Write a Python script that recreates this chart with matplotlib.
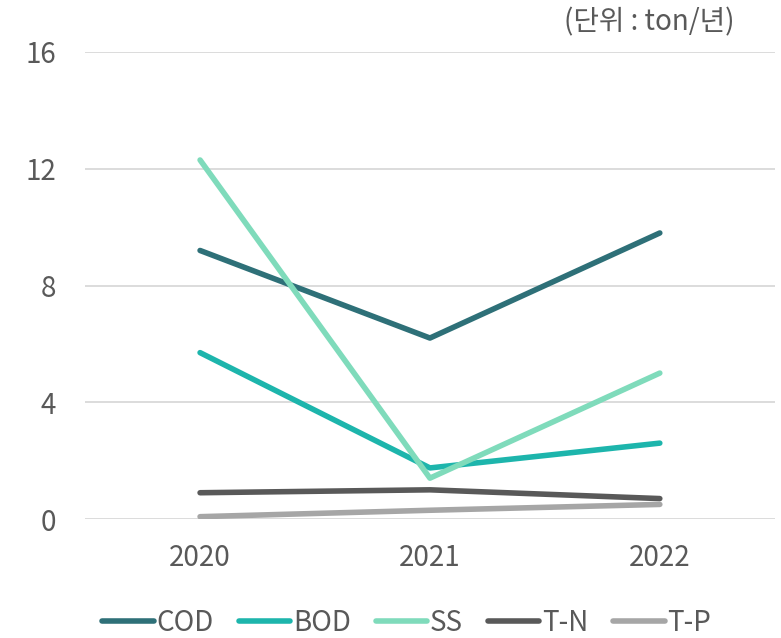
import matplotlib
matplotlib.use("Agg")
import matplotlib.pyplot as plt

plt.rcParams['font.family'] = ['Noto Sans CJK KR', 'DejaVu Sans']

years = ["2020", "2021", "2022"]
cod = [9.2, 6.2, 9.8]
bod = [5.7, 1.75, 2.6]
ss = [12.3, 1.4, 5.0]
tn = [0.9, 1.0, 0.7]
tp = [0.08, 0.3, 0.5]

series = [("COD", cod, "#2E7078"),
          ("BOD", bod, "#1DB5AC"),
          ("SS", ss, "#7FDBBB"),
          ("T-N", tn, "#595959"),
          ("T-P", tp, "#A6A6A6")]

fig = plt.figure(figsize=(7.81, 6.38), dpi=100)
ax = fig.add_axes([0.109, 0.1865, 0.883, 0.732])

x = range(len(years))
for name, vals, col in series:
    ax.plot(x, vals, color=col, lw=4.0, solid_capstyle='round', label=name)

ax.set_xlim(-0.5, 2.5)
ax.set_ylim(0, 16)
ax.set_yticks([0, 4, 8, 12, 16])
ax.set_xticks(list(x))
ax.set_xticklabels(years)
ax.yaxis.grid(True, color="#D9D9D9", lw=1.3)
ax.set_axisbelow(True)
for s in ax.spines.values():
    s.set_visible(False)
ax.tick_params(length=0, labelsize=20, labelcolor="#595959")
ax.tick_params(axis='x', pad=17)
ax.tick_params(axis='y', pad=21)

fig.text(0.94, 0.965, "(단위 : ton/년)", ha='right', va='center', fontsize=20, color="#595959")

fig.legend(loc='center', bbox_to_anchor=(0.521, 0.024), ncol=5, frameon=False,
           fontsize=20, labelcolor="#595959", handlelength=1.85, handletextpad=0.1,
           columnspacing=0.9)

fig.savefig("out.png", dpi=100)
